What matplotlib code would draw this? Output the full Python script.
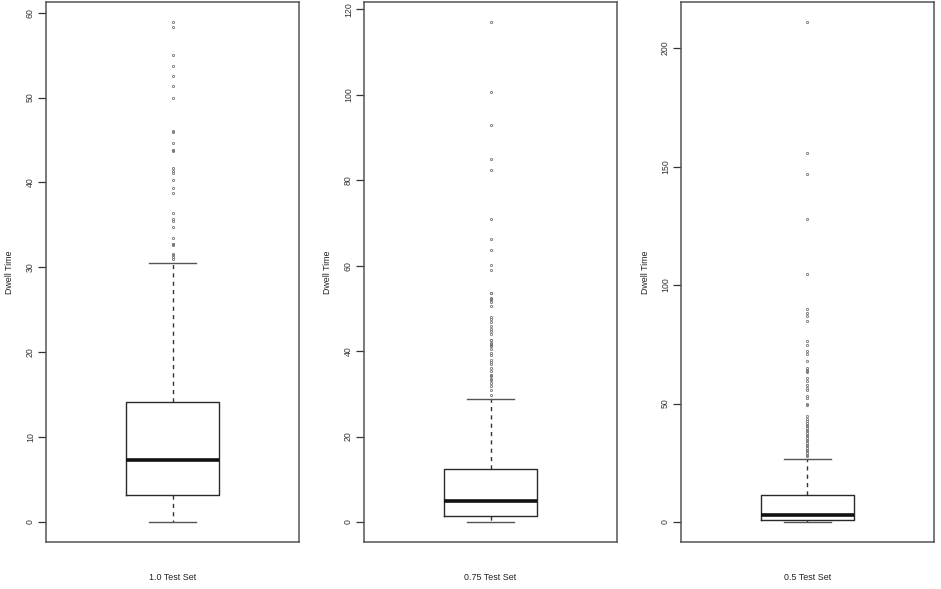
import matplotlib
matplotlib.use("Agg")
import matplotlib.pyplot as plt

plt.rcParams['font.family'] = ['Liberation Sans', 'DejaVu Sans']

# ---- data ----
set_labels = ["1.0 Test Set", "0.75 Test Set", "0.5 Test Set"]
y_label = "Dwell Time"

q1_vals = [3.2, 1.3, 1.0]
median_vals = [7.27, 4.8, 2.8]
q3_vals = [14.17, 12.3, 11.2]
whisker_low = [0.0, 0.0, 0.0]
whisker_high = [30.46, 28.8, 26.4]

outliers_10 = [58.9, 58.3, 55.0, 53.7, 52.5, 51.4, 50.0, 46.1, 45.9, 44.7,
               43.8, 43.8, 43.7, 41.7, 41.4, 41.1, 40.3, 39.4, 38.8, 36.4,
               35.7, 35.5, 34.7, 33.4, 32.8, 32.6, 32.7, 31.6, 31.4, 31.2, 31.0]
outliers_075 = [117.0, 100.7, 92.8, 84.9, 82.4, 70.8, 66.2, 63.7, 60.2, 59.0,
                53.7, 53.5, 52.4, 52.1, 51.9, 51.5, 50.5, 48.0, 47.4, 46.8,
                45.8, 45.1, 44.7, 43.9, 42.7, 42.5, 41.9, 41.6, 41.5, 41.2,
                40.4, 39.6, 39.0, 38.0, 37.4, 36.9, 36.1, 35.3, 34.5, 34.4,
                34.1, 33.4, 33.3, 32.6, 31.8, 31.0, 29.8]
outliers_05 = [211.0, 155.7, 146.7, 128.0, 104.5, 90.0, 88.3, 86.9, 84.8, 76.3,
               74.9, 72.1, 70.7, 67.9, 65.0, 64.3, 63.6, 63.5, 60.8, 59.4,
               58.0, 56.6, 55.9, 53.1, 52.4, 49.6, 49.5, 44.6, 43.5, 42.5,
               41.8, 41.1, 40.4, 39.7, 39.0, 38.3, 37.6, 36.9, 36.2, 35.5,
               34.8, 34.1, 33.4, 32.6, 32.0, 31.3, 30.5, 29.8, 29.1, 28.4, 27.7]
outliers = [outliers_10, outliers_075, outliers_05]

y_ticks = [[0, 10, 20, 30, 40, 50, 60],
           [0, 20, 40, 60, 80, 100, 120],
           [0, 50, 100, 150, 200]]

# ---- layout ----
W, H = 941, 589
fig = plt.figure(figsize=(W / 100, H / 100), dpi=100)
fig.patch.set_facecolor('white')

ax_lefts = [46, 364, 681]
ax_w = 253
ax_top, ax_bot = 2, 542

for i in range(3):
    left = ax_lefts[i]
    ax = fig.add_axes([left / W, (H - ax_bot) / H, ax_w / W, (ax_bot - ax_top) / H])
    stats = [dict(med=median_vals[i], q1=q1_vals[i], q3=q3_vals[i],
                  whislo=whisker_low[i], whishi=whisker_high[i],
                  fliers=outliers[i])]
    ax.bxp(stats, positions=[1], widths=0.4, showfliers=True,
           boxprops=dict(color='#2a2a2a', linewidth=1.0),
           medianprops=dict(color='#111111', linewidth=2.6, solid_capstyle='butt'),
           whiskerprops=dict(color='#333333', linewidth=1.0, linestyle=(0, (3, 3))),
           capprops=dict(color='#555555', linewidth=1.0),
           capwidths=0.2,
           flierprops=dict(marker='o', markersize=1.6, markerfacecolor='none',
                           markeredgecolor='#777777', markeredgewidth=0.6,
                           linestyle='none'))
    top = max(outliers[i] + [whisker_high[i]])
    pad = 0.04 * (top - 0)
    ax.set_ylim(-pad, top + pad)
    ax.set_xlim(0.46, 1.54)
    ax.set_xticks([])
    ax.set_yticks(y_ticks[i])
    ax.set_yticklabels([str(t) for t in y_ticks[i]], rotation=90, va='center',
                       fontsize=6.3, color='#333333')
    ax.tick_params(axis='y', direction='out', length=6, width=0.9,
                   color='#333333', pad=2)
    for s in ax.spines.values():
        s.set_color('#555555')
        s.set_linewidth(1.1)
    cx = (left + ax_w / 2) / W
    fig.text(cx, (H - 578) / H, set_labels[i], ha='center', va='center',
             fontsize=6.4, color='#222222')
    fig.text((left - 36) / W, (H - (ax_top + ax_bot) / 2) / H, y_label,
             rotation=90, ha='center', va='center', fontsize=6.4, color='#222222')

fig.savefig('out.png', dpi=100, facecolor='white')
